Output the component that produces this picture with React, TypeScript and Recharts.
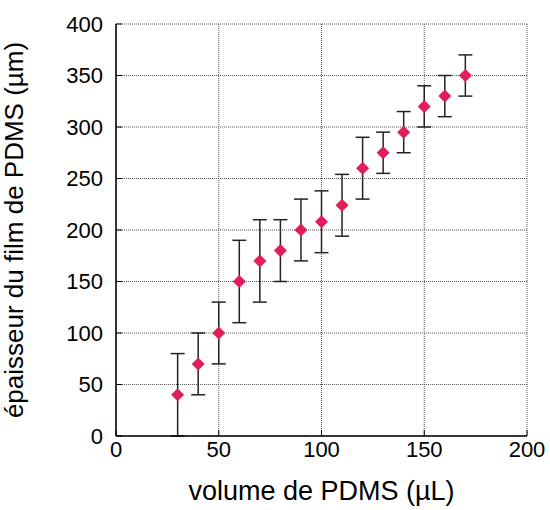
import React from 'react';
import {
  ScatterChart,
  Scatter,
  XAxis,
  YAxis,
  CartesianGrid,
  ErrorBar,
} from 'recharts';

// volume de PDMS (µL)
const volumes = [30, 40, 50, 60, 70, 80, 90, 100, 110, 120, 130, 140, 150, 160, 170];
// épaisseur du film (µm)
const thickness = [40, 70, 100, 150, 170, 180, 200, 208, 224, 260, 275, 295, 320, 330, 350];
// barres d'erreur (±µm)
const errors = [40, 30, 30, 40, 40, 30, 30, 30, 30, 30, 20, 20, 20, 20, 20];

const xTicks = [0, 50, 100, 150, 200];
const yTicks = [0, 50, 100, 150, 200, 250, 300, 350, 400];

const data = volumes.map((v, i) => ({ x: v, y: thickness[i], err: errors[i] }));

const FONT = '"Liberation Sans", Arial, sans-serif';
const MARKER = '#e01e5a';

const Diamond = (props: any) => {
  const { cx, cy } = props;
  const r = 6.5;
  return (
    <polygon
      points={`${cx},${cy - r} ${cx + r},${cy} ${cx},${cy + r} ${cx - r},${cy}`}
      fill={MARKER}
    />
  );
};

const tickStyle = { fill: '#000', fontSize: 22, fontFamily: FONT };
const frame = { stroke: '#000', strokeWidth: 1.5 };

export default function App() {
  return (
    <div style={{ position: 'absolute', left: 0, top: 0, background: '#fff' }}>
      <ScatterChart
        width={550}
        height={510}
        margin={{ top: 24, right: 23, bottom: 0, left: 0 }}
      >
        <CartesianGrid
          xAxisId="main"
          yAxisId="main"
          stroke="#555"
          strokeDasharray="1 1"
        />
        <XAxis
          xAxisId="main"
          type="number"
          dataKey="x"
          domain={[0, 200]}
          ticks={xTicks}
          height={74}
          tick={tickStyle}
          tickSize={-6}
          tickMargin={11}
          axisLine={frame}
          tickLine={{ stroke: '#000' }}
          label={{
            value: 'volume de PDMS (µL)',
            position: 'insideBottom',
            offset: 10,
            style: { fill: '#000', fontSize: 27, fontFamily: FONT },
          }}
        />
        <XAxis
          xAxisId="top"
          orientation="top"
          type="number"
          domain={[0, 200]}
          ticks={xTicks}
          height={0}
          tick={false}
          tickSize={-6}
          axisLine={frame}
          tickLine={{ stroke: '#000' }}
        />
        <YAxis
          yAxisId="main"
          type="number"
          dataKey="y"
          domain={[0, 400]}
          ticks={yTicks}
          width={116}
          tick={tickStyle}
          tickSize={-6}
          tickMargin={19}
          axisLine={frame}
          tickLine={{ stroke: '#000' }}
          label={{
            value: 'épaisseur du film de PDMS (µm)',
            angle: -90,
            position: 'insideLeft',
            offset: 14,
            style: { textAnchor: 'middle', fill: '#000', fontSize: 26, fontFamily: FONT },
          }}
        />
        <YAxis
          yAxisId="right"
          orientation="right"
          type="number"
          domain={[0, 400]}
          ticks={yTicks}
          width={0}
          tick={false}
          tickSize={-6}
          axisLine={frame}
          tickLine={{ stroke: '#000' }}
        />
        <Scatter
          xAxisId="main"
          yAxisId="main"
          data={data}
          shape={<Diamond />}
          isAnimationActive={false}
        >
          <ErrorBar dataKey="err" direction="y" width={7} stroke="#222" strokeWidth={1.5} />
        </Scatter>
      </ScatterChart>
    </div>
  );
}
